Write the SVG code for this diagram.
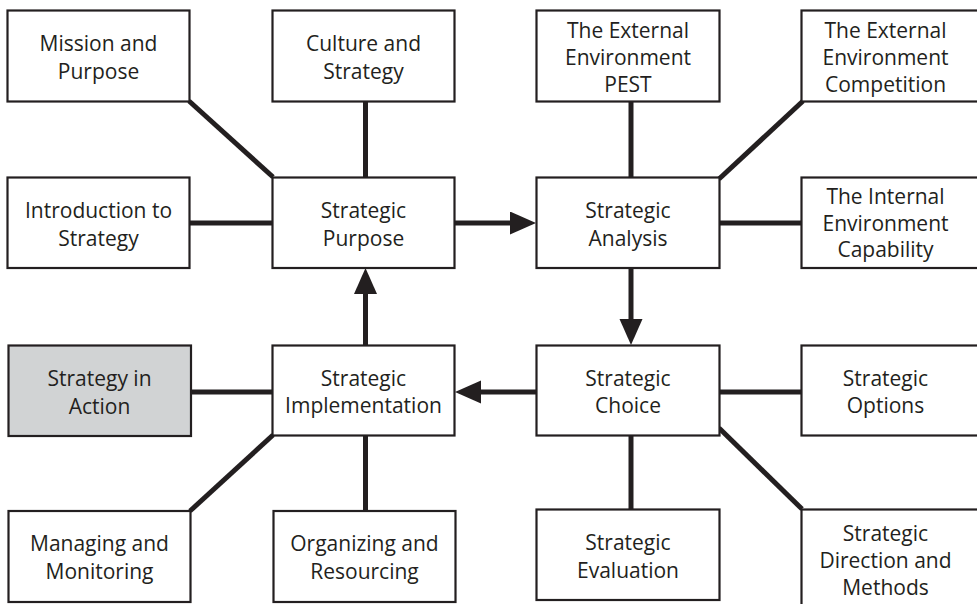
<svg xmlns="http://www.w3.org/2000/svg" width="977" height="604" viewBox="0 0 977 604">
<style>
.box{fill:#fff;stroke:#231f20;stroke-width:2.2}
.hl{fill:#d1d3d4}
.c{stroke:#231f20;stroke-width:5;fill:none}
text{font-family:"Open Sans","Liberation Sans",sans-serif;font-size:21px;fill:#231f20;text-anchor:middle}
</style>
<defs>
<marker id="ah" markerUnits="userSpaceOnUse" markerWidth="27" markerHeight="24" refX="6" refY="11.5" orient="auto">
<path d="M0,0 L26,11.5 L0,23 z" fill="#231f20"/>
</marker>
</defs>
<g id="connectors">
<line class="c" x1="189" y1="101" x2="273" y2="177"/>
<line class="c" x1="365.5" y1="101" x2="365.5" y2="177"/>
<line class="c" x1="190" y1="223" x2="272" y2="223"/>
<line class="c" x1="631" y1="101" x2="631" y2="177"/>
<line class="c" x1="719" y1="179" x2="803" y2="101"/>
<line class="c" x1="719" y1="223" x2="801" y2="223"/>
<line class="c" x1="191" y1="392" x2="272" y2="392"/>
<line class="c" x1="190" y1="511" x2="273" y2="435"/>
<line class="c" x1="365.5" y1="435" x2="365.5" y2="511"/>
<line class="c" x1="719" y1="392" x2="801" y2="392"/>
<line class="c" x1="631" y1="435" x2="631" y2="509"/>
<line class="c" x1="719" y1="428" x2="802" y2="509"/>
<line class="c" x1="455" y1="223" x2="516" y2="223" marker-end="url(#ah)"/>
<line class="c" x1="631" y1="268" x2="631" y2="325" marker-end="url(#ah)"/>
<line class="c" x1="536" y1="392" x2="475" y2="392" marker-end="url(#ah)"/>
<line class="c" x1="365.5" y1="345" x2="365.5" y2="288" marker-end="url(#ah)"/>
</g>
<g id="mission"><rect class="box" x="7.5" y="10.5" width="182" height="91"/><text x="98.5" y="51">Mission and</text><text x="98.5" y="79">Purpose</text></g>
<g id="culture"><rect class="box" x="272.5" y="10.5" width="182" height="91"/><text x="363.5" y="51">Culture and</text><text x="363.5" y="79">Strategy</text></g>
<g id="pest"><rect class="box" x="536.5" y="10.5" width="183" height="91"/><text x="628" y="38">The External</text><text x="628" y="65">Environment</text><text x="628" y="92">PEST</text></g>
<g id="competition"><rect class="box" x="801.5" y="10.5" width="183" height="91"/><text x="885.5" y="38">The External</text><text x="885.5" y="65">Environment</text><text x="885.5" y="92">Competition</text></g>
<g id="intro"><rect class="box" x="7.5" y="177.5" width="182" height="90.5"/><text x="98.5" y="218">Introduction to</text><text x="98.5" y="246">Strategy</text></g>
<g id="purpose"><rect class="box" x="272.5" y="177.5" width="182" height="90.5"/><text x="363.5" y="218">Strategic</text><text x="363.5" y="246">Purpose</text></g>
<g id="analysis"><rect class="box" x="536.5" y="177.5" width="183" height="90.5"/><text x="628" y="218">Strategic</text><text x="628" y="246">Analysis</text></g>
<g id="internal"><rect class="box" x="801.5" y="177.5" width="183" height="90.5"/><text x="885.5" y="204">The Internal</text><text x="885.5" y="231">Environment</text><text x="885.5" y="257">Capability</text></g>
<g id="action"><rect class="box hl" x="8.5" y="345.5" width="182.5" height="90.5"/><text x="99.5" y="386">Strategy in</text><text x="99.5" y="414">Action</text></g>
<g id="implementation"><rect class="box" x="272.5" y="345.5" width="182" height="90"/><text x="363.5" y="386">Strategic</text><text x="363.5" y="413">Implementation</text></g>
<g id="choice"><rect class="box" x="536.5" y="345.5" width="183" height="90"/><text x="628" y="386">Strategic</text><text x="628" y="413">Choice</text></g>
<g id="options"><rect class="box" x="801.5" y="345.5" width="183" height="90"/><text x="885.5" y="386">Strategic</text><text x="885.5" y="413">Options</text></g>
<g id="managing"><rect class="box" x="8.5" y="511" width="182" height="91"/><text x="99.5" y="551">Managing and</text><text x="99.5" y="579">Monitoring</text></g>
<g id="organizing"><rect class="box" x="273.5" y="511" width="182" height="91"/><text x="364.5" y="551">Organizing and</text><text x="364.5" y="579">Resourcing</text></g>
<g id="evaluation"><rect class="box" x="536.5" y="509.5" width="183" height="90.5"/><text x="628" y="550">Strategic</text><text x="628" y="578">Evaluation</text></g>
<g id="direction"><rect class="box" x="801.5" y="509.5" width="183" height="100"/><text x="885.5" y="541">Strategic</text><text x="885.5" y="568">Direction and</text><text x="885.5" y="595">Methods</text></g>
</svg>
